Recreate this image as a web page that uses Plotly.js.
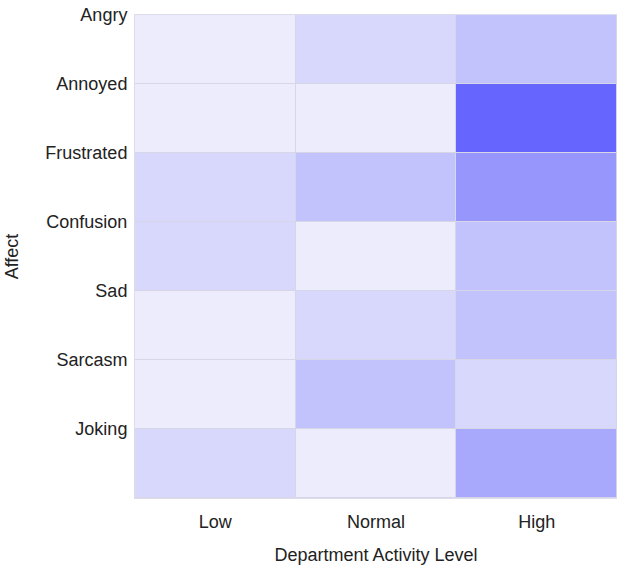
<!DOCTYPE html>
<html>
<head>
<meta charset="utf-8">
<script src="https://cdn.plot.ly/plotly-3.0.1.min.js"></script>
<style>html,body{margin:0;padding:0;background:#fff;}#chart{width:617px;height:568px;}</style>
</head>
<body>
<div id="chart"></div>
<script>
// Data
var activityLevels = ["Low", "Normal", "High"];
var affects = ["Angry", "Annoyed", "Frustrated", "Confusion", "Sad", "Sarcasm", "Joking"];
// intensity per affect (rows) for Low, Normal, High
var lowValues    = [1, 1, 2, 2, 1, 1, 2];
var normalValues = [2, 1, 3, 1, 2, 3, 1];
var highValues   = [3, 8, 5, 3, 3, 2, 4];

var rowIdx = affects.map(function(_, i){ return i; });
var z = affects.map(function(_, i){ return [lowValues[i], normalValues[i], highValues[i]]; });

var trace = {
  type: "heatmap",
  x: activityLevels,
  y: rowIdx,
  z: z,
  zmin: 0,
  zmax: 8,
  colorscale: [
    [0, "#ffffff"],
    [0.125, "#ececfd"],
    [0.25, "#d8d8fc"],
    [0.375, "#c2c2fc"],
    [0.5, "#a8a8fc"],
    [0.625, "#9696fc"],
    [1, "#6666ff"]
  ],
  showscale: false,
  xgap: 1,
  ygap: 1,
  hoverinfo: "skip"
};

var layout = {
  width: 617,
  height: 568,
  margin: {l: 135, r: 0, t: 15, b: 70},
  paper_bgcolor: "#ffffff",
  plot_bgcolor: "#d6d6e8",
  font: {family: "Liberation Sans, Arial, sans-serif", size: 18, color: "#222"},
  xaxis: {
    type: "category",
    showgrid: false,
    zeroline: false,
    showline: true,
    mirror: true,
    linecolor: "#dcdcea",
    linewidth: 1,
    ticks: "outside",
    ticklen: 7,
    tickcolor: "rgba(0,0,0,0)",
    tickfont: {size: 18, color: "#222"},
    title: {text: "Department Activity Level", font: {size: 18, color: "#222"}, standoff: 17}
  },
  yaxis: {
    autorange: "reversed",
    showgrid: false,
    zeroline: false,
    showline: true,
    mirror: true,
    linecolor: "#dcdcea",
    linewidth: 1,
    tickmode: "array",
    tickvals: rowIdx.map(function(i){ return i - 0.5; }),
    ticktext: affects,
    ticks: "outside",
    ticklen: 3,
    tickcolor: "rgba(0,0,0,0)",
    tickfont: {size: 18, color: "#222"},
    title: {text: "Affect", font: {size: 18, color: "#222"}, standoff: 22}
  }
};

Plotly.newPlot("chart", [trace], layout, {displayModeBar: false, staticPlot: true});
</script>
</body>
</html>
